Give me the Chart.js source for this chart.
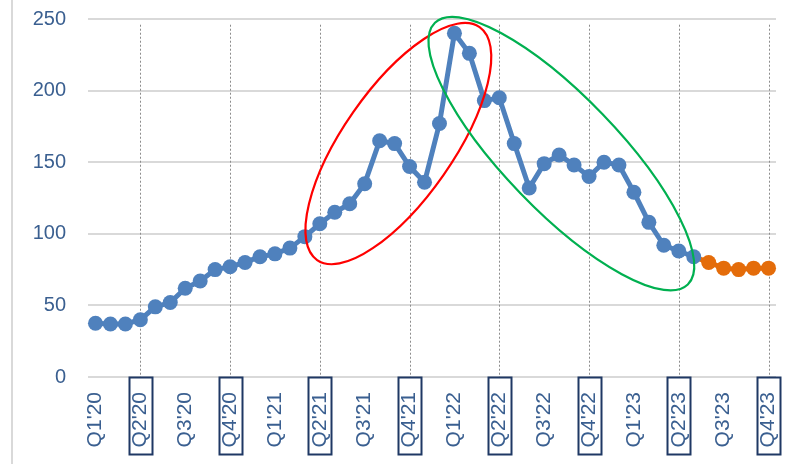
<!DOCTYPE html>
<html>
<head>
<meta charset="utf-8">
<script src="https://cdn.jsdelivr.net/npm/chart.js@4/dist/chart.umd.min.js"></script>
<style>
  html, body { margin: 0; padding: 0; background: #ffffff; }
  #wrap { width: 794px; height: 464px; position: relative; }
</style>
</head>
<body>
<div id="wrap"><canvas id="chart" width="794" height="464"></canvas></div>
<script>
// Quarter tick labels (one every third period)
const quarterLabels = ["Q1'20", "Q2'20", "Q3'20", "Q4'20", "Q1'21", "Q2'21", "Q3'21", "Q4'21",
                       "Q1'22", "Q2'22", "Q3'22", "Q4'22", "Q1'23", "Q2'23", "Q3'23", "Q4'23"];

// Quarters that get a framed label and a dotted guide line
const markedQuarters = ["Q2'20", "Q4'20", "Q2'21", "Q4'21", "Q2'22", "Q4'22", "Q2'23", "Q4'23"];

// Actual series
const actualValues = [37.5, 37, 37, 40, 49, 52, 62, 67, 75, 77,
                      80, 84, 86, 90, 98, 107, 115, 121, 135, 165,
                      163, 147, 136, 177, 240, 226, 193, 195, 163, 132,
                      149, 155, 148, 140, 150, 148, 129, 108, 92, 88,
                      84];

// Forecast series (continues after the last actual period)
const forecastValues = [80, 76, 75, 76, 76];

// Y axis ticks
const yTicks = [0, 50, 100, 150, 200, 250];

const PERIODS_PER_QUARTER = 3;
const periodCount = actualValues.length + forecastValues.length;

const categories = [];
for (let i = 0; i < periodCount; i++) {
  categories.push(i % PERIODS_PER_QUARTER === 0 ? quarterLabels[i / PERIODS_PER_QUARTER] : '');
}

const actualData = categories.map((_, i) => i < actualValues.length ? actualValues[i] : null);
const lastActual = actualValues.length - 1;
const forecastData = categories.map((_, i) => {
  if (i === lastActual) return actualValues[lastActual];
  if (i > lastActual) return forecastValues[i - actualValues.length];
  return null;
});

const markedIndexes = markedQuarters.map(q => quarterLabels.indexOf(q) * PERIODS_PER_QUARTER);

const TEXT_COLOR = '#3a5f90';
const FONT = '"Liberation Sans", Arial, sans-serif';

// Hand-drawn style highlight rings (center in data units, radii in px)
const rings = [
  { index: 20.25, value: 163, rx: 142, ry: 55, angle: -55.1, color: '#ff0000' },
  { index: 31.15, value: 156, rx: 182, ry: 57, angle: 46, color: '#00b050' }
];

const decorations = {
  id: 'decorations',
  beforeDatasetsDraw(chart) {
    const { ctx, scales: { x, y }, chartArea } = chart;
    ctx.save();
    // dotted guide lines at the marked quarters
    ctx.strokeStyle = '#8c8c8c';
    ctx.lineWidth = 1;
    ctx.setLineDash([2, 2]);
    const top = y.getPixelForValue(246);
    markedIndexes.forEach(i => {
      const px = Math.round(x.getPixelForValue(i)) + 0.5;
      ctx.beginPath();
      ctx.moveTo(px, top);
      ctx.lineTo(px, chartArea.bottom);
      ctx.stroke();
    });
    ctx.restore();
  },
  afterDatasetsDraw(chart) {
    const { ctx, scales: { x, y } } = chart;
    ctx.save();
    ctx.lineWidth = 2.2;
    rings.forEach(r => {
      ctx.strokeStyle = r.color;
      ctx.beginPath();
      ctx.ellipse(x.getPixelForValue(r.index), y.getPixelForValue(r.value),
                  r.rx, r.ry, r.angle * Math.PI / 180, 0, Math.PI * 2);
      ctx.stroke();
    });
    ctx.restore();
  },
  afterDraw(chart) {
    const { ctx, scales: { x }, chartArea } = chart;
    ctx.save();
    // frame on the left edge
    ctx.strokeStyle = '#d9d9d9';
    ctx.lineWidth = 2;
    ctx.beginPath();
    ctx.moveTo(12, 0);
    ctx.lineTo(12, chart.height);
    ctx.stroke();
    // boxes around the marked quarter labels
    ctx.strokeStyle = '#1f3864';
    ctx.lineWidth = 2;
    markedIndexes.forEach(i => {
      const px = x.getPixelForValue(i);
      ctx.strokeRect(Math.round(px - 11.5) + 0.5, chartArea.bottom + 0.5, 23, 77);
    });
    ctx.restore();
  }
};

new Chart(document.getElementById('chart'), {
  type: 'line',
  data: {
    labels: categories,
    datasets: [
      {
        label: 'Actual',
        data: actualData,
        borderColor: '#4f81bd',
        backgroundColor: '#4f81bd',
        borderWidth: 5,
        pointRadius: 7.5,
        pointBorderWidth: 0,
        pointHoverRadius: 7.5,
        tension: 0,
        spanGaps: false
      },
      {
        label: 'Forecast',
        data: forecastData,
        borderColor: '#e46c0a',
        backgroundColor: '#e46c0a',
        borderWidth: 5,
        pointRadius: ctx => ctx.dataIndex <= lastActual ? 0 : 7.5,
        pointBorderWidth: 0,
        tension: 0,
        spanGaps: false
      }
    ]
  },
  options: {
    responsive: false,
    animation: false,
    events: [],
    layout: { padding: { left: 0, right: 18, top: 19, bottom: 0 } },
    plugins: { legend: { display: false }, tooltip: { enabled: false } },
    scales: {
      x: {
        offset: true,
        grid: { display: false, drawTicks: false },
        border: { display: false },
        ticks: {
          autoSkip: false,
          maxRotation: 90,
          minRotation: 90,
          padding: 15,
          color: TEXT_COLOR,
          font: { family: FONT, size: 21 }
        },
        afterFit(scale) {
          scale.height = 464 - 377;
          scale.paddingLeft = 0;
          scale.paddingRight = 0;
        }
      },
      y: {
        min: 0,
        max: 250,
        afterBuildTicks(scale) { scale.ticks = yTicks.map(v => ({ value: v })); },
        grid: { color: '#d9d9d9', lineWidth: 2, drawTicks: false },
        border: { display: false },
        ticks: {
          padding: 22,
          color: TEXT_COLOR,
          font: { family: FONT, size: 20 }
        },
        afterFit(scale) {
          scale.width = 88;
          scale.paddingTop = 0;
          scale.paddingBottom = 0;
        }
      }
    }
  },
  plugins: [decorations]
});
</script>
</body>
</html>
